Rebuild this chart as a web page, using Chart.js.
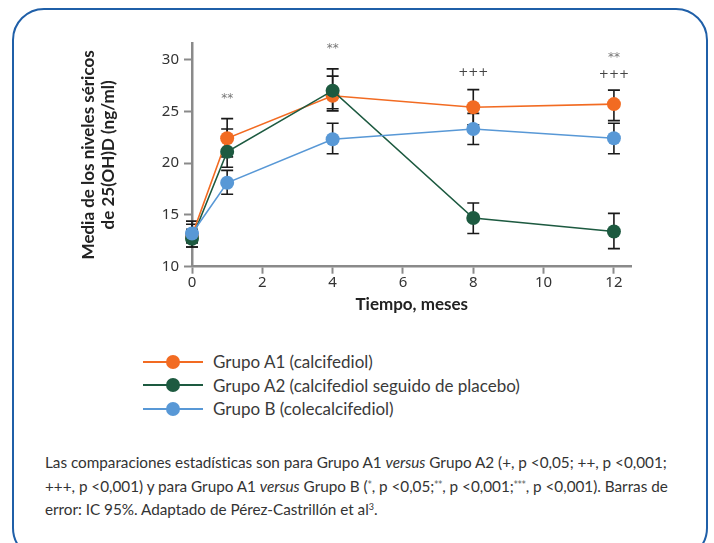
<!DOCTYPE html>
<html lang="es">
<head>
<meta charset="utf-8">
<script src="https://cdn.jsdelivr.net/npm/chart.js@4.4.1/dist/chart.umd.min.js"></script>
<style>
  html, body { margin: 0; padding: 0; background: #fff; }
  body { width: 714px; height: 543px; position: relative; overflow: hidden; font-family: Lato, "Open Sans", sans-serif; color: #333; }
  .frame { position: absolute; left: 12px; top: 8px; width: 692px; height: 548px; border: 2.5px solid #1f5fa8; border-radius: 32px; }
  #chart-wrap { position: absolute; left: 0; top: 0; width: 714px; height: 320px; }
  .legend { position: absolute; left: 143px; top: 350px; }
  .legend-row { height: 23.5px; display: flex; align-items: center; font-size: 17px; color: #3a3a3a; white-space: nowrap; }
  .legend-key { position: relative; width: 60px; height: 14px; margin-right: 10px; }
  .legend-key .ln { position: absolute; left: 0; right: 0; top: 6px; height: 2px; }
  .legend-key .dot { position: absolute; left: 23px; top: 0; width: 14px; height: 14px; border-radius: 50%; }
  .note { position: absolute; left: 45px; top: 451px; font-size: 15.3px; line-height: 23.5px; color: #333; letter-spacing: -0.02px; }
  .note div { white-space: nowrap; }
  .note sup { font-size: 9px; vertical-align: 5px; line-height: 0; }
  .note sup.st { font-family: "DejaVu Sans", sans-serif; font-size: 8px; color: #555; }
</style>
</head>
<body>
<div class="frame"></div>
<div id="chart-wrap"><canvas id="chart" width="714" height="320"></canvas></div>
<div class="legend" id="legend"></div>
<div class="note">
  <div>Las comparaciones estadísticas son para Grupo A1 <i>versus</i> Grupo A2 (+, p &lt;0,05; ++, p &lt;0,001;</div>
  <div>+++, p &lt;0,001) y para Grupo A1 <i>versus</i> Grupo B (<sup class="st">*</sup>, p &lt;0,05;<sup class="st">**</sup>, p &lt;0,001;<sup class="st">***</sup>, p &lt;0,001). Barras de</div>
  <div>error: IC 95%. Adaptado de Pérez-Castrillón et al<sup>3</sup>.</div>
</div>
<script>
// Data
const months = [0, 1, 4, 8, 12];
const xTicks = [0, 2, 4, 6, 8, 10, 12];
const yTicks = [10, 15, 20, 25, 30];

const labels = ['Grupo A1 (calcifediol)', 'Grupo A2 (calcifediol seguido de placebo)', 'Grupo B (colecalcifediol)'];
const colors = ['#f26b22', '#1d5a40', '#5898d6'];

const grupoA1 = [13.0, 22.4, 26.5, 25.4, 25.7];
const grupoA2 = [12.7, 21.1, 27.0, 14.7, 13.4];
const grupoB = [13.2, 18.1, 22.3, 23.3, 22.4];

// 95% CI bounds
const lowA1 = [11.9, 20.6, 25.25, 23.7, 24.1];
const highA1 = [14.4, 24.3, 28.4, 27.1, 27.05];
const lowA2 = [11.9, 19.6, 25.05, 13.2, 11.75];
const highA2 = [13.6, 23.3, 29.1, 16.15, 15.15];
const lowB = [12.3, 17.0, 20.9, 21.8, 20.9];
const highB = [14.1, 19.3, 23.85, 24.8, 23.85];

// significance marks: month, value level, text
const marksX = [1, 4, 8, 12, 12];
const marksY = [26.2, 31.05, 28.75, 30.15, 28.55];
const marksText = ['**', '**', '+++', '**', '+++'];

const series = [grupoA1, grupoA2, grupoB];
const lows = [lowA1, lowA2, lowB];
const highs = [highA1, highA2, highB];

// --- Legend (HTML) ---
const legendEl = document.getElementById('legend');
labels.forEach((name, i) => {
    const row = document.createElement('div');
    row.className = 'legend-row';
    row.innerHTML = `<span class="legend-key"><span class="ln" style="background:${colors[i]}"></span><span class="dot" style="background:${colors[i]}"></span></span><span>${name}</span>`;
    legendEl.appendChild(row);
});

// --- Plugins ---
const errorBars = {
    id: 'errorBars',
    beforeDatasetsDraw(chart) {
        const { ctx, scales: { x, y } } = chart;
        ctx.save();
        ctx.strokeStyle = '#1a1a1a';
        ctx.lineWidth = 1.6;
        lows.forEach((lo, s) => {
            lo.forEach((v, i) => {
                const px = x.getPixelForValue(months[i]);
                const y1 = y.getPixelForValue(v);
                const y2 = y.getPixelForValue(highs[s][i]);
                ctx.beginPath();
                ctx.moveTo(px, y1); ctx.lineTo(px, y2);
                ctx.moveTo(px - 6, y1); ctx.lineTo(px + 6, y1);
                ctx.moveTo(px - 6, y2); ctx.lineTo(px + 6, y2);
                ctx.stroke();
            });
        });
        ctx.restore();
    }
};

const sigMarks = {
    id: 'sigMarks',
    afterDatasetsDraw(chart) {
        const { ctx, scales: { x, y } } = chart;
        ctx.save();
        ctx.textAlign = 'center';
        ctx.textBaseline = 'middle';
        marksText.forEach((t, i) => {
            const isStar = t.includes('*');
            ctx.fillStyle = isStar ? '#777' : '#444';
            ctx.font = '12px "DejaVu Sans"';
            ctx.fillText(t, x.getPixelForValue(marksX[i]), y.getPixelForValue(marksY[i]));
        });
        ctx.restore();
    }
};

// --- Chart ---
const tickFont = { family: '"Noto Sans"', size: 15 };
const titleFont = { family: 'Lato', size: 17, weight: 'bold', lineHeight: 1.2 };

new Chart(document.getElementById('chart'), {
    type: 'line',
    data: {
        datasets: series.map((vals, i) => ({
            label: labels[i],
            data: vals.map((v, j) => ({ x: months[j], y: v })),
            borderColor: colors[i],
            backgroundColor: colors[i],
            borderWidth: 1.6,
            pointRadius: 7,
            pointBorderWidth: 0,
            pointHoverRadius: 7,
            tension: 0,
            clip: false,
            order: 3 - i
        }))
    },
    options: {
        responsive: false,
        animation: false,
        events: [],
        layout: { padding: { left: 0, right: 82.5, top: 43, bottom: 0 } },
        plugins: { legend: { display: false }, tooltip: { enabled: false } },
        scales: {
            x: {
                type: 'linear',
                min: 0,
                max: 12.5,
                afterBuildTicks: (scale) => { scale.ticks = xTicks.map(v => ({ value: v })); },
                afterFit: (scale) => { scale.height = 53.3; },
                grid: { drawOnChartArea: false, color: '#8a8a8a', tickLength: 7, tickWidth: 2 },
                border: { color: '#8a8a8a', width: 2.5 },
                ticks: { font: tickFont, color: '#333', padding: 0, maxRotation: 0, autoSkip: false },
                title: { display: true, text: 'Tiempo, meses', font: titleFont, color: '#222', padding: { top: 0, bottom: 5 } }
            },
            y: {
                min: 10,
                max: 31.6,
                afterBuildTicks: (scale) => { scale.ticks = yTicks.map(v => ({ value: v })); },
                afterFit: (scale) => { scale.width = 192; },
                grid: { drawOnChartArea: false, color: '#8a8a8a', tickLength: 8, tickWidth: 2 },
                border: { color: '#8a8a8a', width: 2.5 },
                ticks: { font: tickFont, color: '#333', padding: 5 },
                title: {
                    display: true,
                    text: ['Media de los niveles séricos', 'de 25(OH)D (ng/ml)'],
                    font: titleFont,
                    color: '#222',
                    padding: { top: 78, bottom: 0 }
                }
            }
        }
    },
    plugins: [errorBars, sigMarks]
});
</script>
</body>
</html>
